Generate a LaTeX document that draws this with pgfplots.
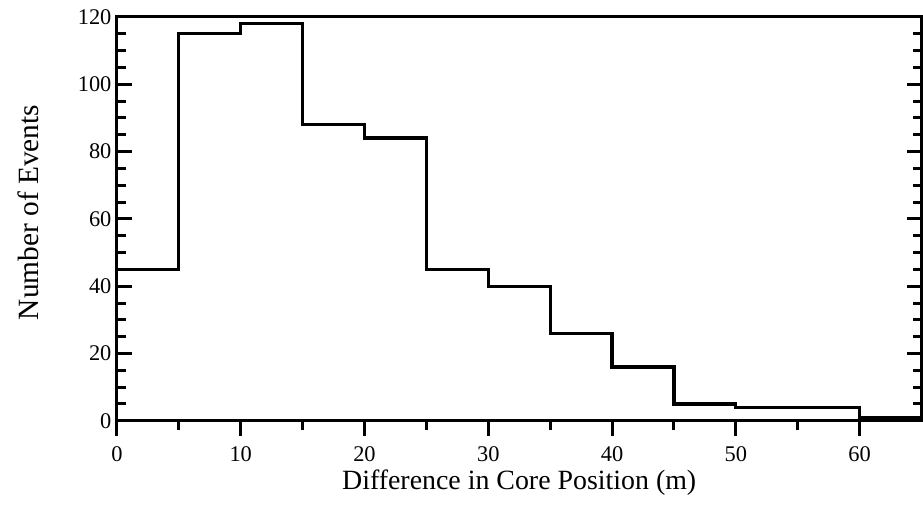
\documentclass[border=0pt]{standalone}
\usepackage{pgfplots}
\pgfplotsset{compat=1.18}
\usepackage{fontspec}
\setmainfont{Liberation Serif}
\begin{document}
\begin{tikzpicture}
\begin{axis}[
  scale only axis,
  width=805bp, height=404bp,
  xmin=0, xmax=65, ymin=0, ymax=120,
  xtick={0,10,20,30,40,50,60},
  ytick={0,20,40,60,80,100,120},
  minor x tick num=1,
  minor y tick num=3,
  xtick pos=bottom,
  ytick pos=both,
  xtick align=outside,
  ytick align=inside,
  major tick length=15bp,
  minor tick length=9bp,
  tick style={line width=3bp, black},
  axis line style={line width=3bp},
  /pgf/number format/assume math mode=true,
  tick label style={font=\fontsize{22.5}{25}\selectfont},
  xticklabel style={yshift=-7bp},
  yticklabel style={xshift=-2bp},
  xlabel={Difference in Core Position (m)},
  ylabel={Number of Events},
  xlabel style={font=\fontsize{28}{32}\selectfont, at={(axis description cs:0.5,-0.171)}, anchor=base},
  ylabel style={font=\fontsize{29.5}{33}\selectfont, at={(axis description cs:-0.0969,0.516)}, anchor=base, rotate=0},
  clip=false,
]
\addplot[const plot, black, line width=3.3bp] coordinates {
  (0,45) (5,115) (10,118) (15,88) (20,84) (25,45) (30,40) (35,26)
  (40,16) (45,5) (50,4) (55,4) (60,1) (65,1)
};
\coordinate (bl) at (rel axis cs:0,0);
\coordinate (tr) at (rel axis cs:1,1);
\end{axis}
\pgfresetboundingbox
\path[use as bounding box] ([shift={(-117bp,-84bp)}]bl) rectangle ([shift={(1.5bp,17bp)}]tr);
\end{tikzpicture}
\end{document}
